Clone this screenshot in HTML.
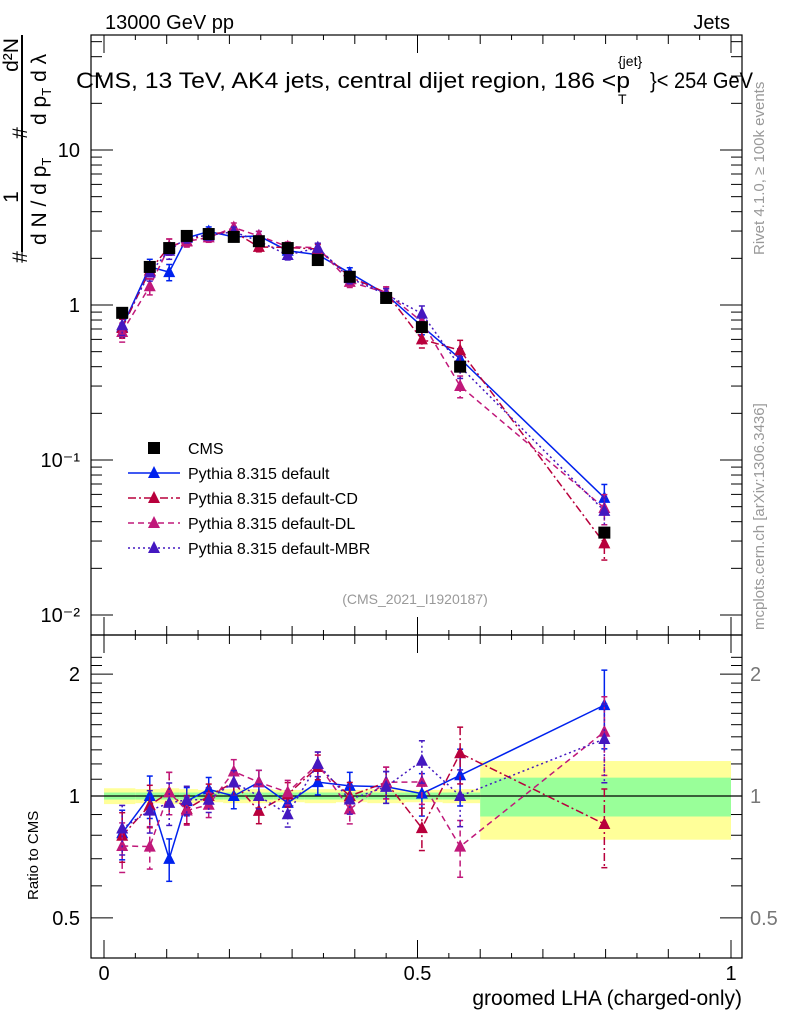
<!DOCTYPE html>
<html><head><meta charset="utf-8"><style>
body{margin:0;background:#fff;}
svg{display:block;font-family:"Liberation Sans",sans-serif;}
</style></head><body>
<svg id="c" width="786" height="1024" viewBox="0 0 786 1024" xmlns="http://www.w3.org/2000/svg">
<text x="105" y="29" font-size="20">13000 GeV pp</text>
<text x="730" y="29" font-size="20" text-anchor="end">Jets</text>
<g>
<text x="76" y="88" font-size="22" textLength="554" lengthAdjust="spacingAndGlyphs">CMS, 13 TeV, AK4 jets, central dijet region, 186 &lt;p</text>
<text x="618" y="66" font-size="14">{jet}</text>
<text x="618" y="104" font-size="14">T</text>
<text x="650" y="88" font-size="22" textLength="103" lengthAdjust="spacingAndGlyphs">}&lt; 254 GeV</text>
</g>
<text transform="translate(764,255) rotate(-90)" font-size="15" fill="#999">Rivet 4.1.0, ≥ 100k events</text>
<text transform="translate(764,630) rotate(-90)" font-size="15" fill="#999">mcplots.cern.ch [arXiv:1306.3436]</text>
<g font-size="21">
<line x1="22" y1="35" x2="22" y2="252" stroke="#000" stroke-width="2"/>
<text transform="translate(27,257) rotate(-90)" text-anchor="middle">#</text>
<text transform="translate(18,197) rotate(-90)" text-anchor="middle">1</text>
<text transform="translate(27,133) rotate(-90)" text-anchor="middle">#</text>
<text transform="translate(18,55) rotate(-90)" text-anchor="middle">d²N</text>
<text transform="translate(46,245) rotate(-90)">d N / d p<tspan font-size="13" dy="5">T</tspan></text>
<text transform="translate(46,125) rotate(-90)">d p<tspan font-size="13" dy="5">T</tspan><tspan dy="-5" dx="6">d λ</tspan></text>
</g>
<text transform="translate(38,900) rotate(-90)" font-size="15">Ratio to CMS</text>
<text x="742" y="1005" font-size="21" text-anchor="end">groomed LHA (charged-only)</text>
<text x="415" y="604" font-size="14" fill="#999" text-anchor="middle">(CMS_2021_I1920187)</text>
<g id="bands"></g><g id="grid"></g><g id="series"></g><g id="legend"></g>
</svg>
<script>
const xCenters=[0.029,0.073,0.104,0.132,0.167,0.207,0.247,0.293,0.341,0.392,0.450,0.507,0.568,0.798];
const binEdges=[0,0.05,0.09,0.12,0.15,0.19,0.23,0.27,0.32,0.37,0.42,0.48,0.54,0.6,1.0];
const cmsVals=[0.89,1.76,2.33,2.79,2.87,2.75,2.58,2.33,1.95,1.52,1.11,0.72,0.40,0.034];
const bandGreen=[0.02,0.02,0.02,0.02,0.02,0.02,0.02,0.02,0.02,0.02,0.02,0.02,0.02,0.11];
const bandYellow=[0.045,0.04,0.045,0.04,0.035,0.04,0.04,0.035,0.04,0.035,0.04,0.035,0.04,0.22];
const defVals=[0.72,1.76,1.63,2.71,2.98,2.75,2.79,2.24,2.11,1.61,1.17,0.73,0.45,0.057];
const cdVals=[0.71,1.67,2.38,2.59,2.87,2.97,2.37,2.35,2.30,1.52,1.20,0.60,0.51,0.029];
const dlVals=[0.67,1.32,2.38,2.57,2.73,3.16,2.79,2.38,2.34,1.41,1.20,0.78,0.30,0.049];
const mbrVals=[0.74,1.62,2.24,2.73,2.81,2.97,2.58,2.10,2.34,1.49,1.17,0.88,0.40,0.047];
const relErr=[0.14,0.12,0.12,0.08,0.07,0.07,0.07,0.07,0.07,0.08,0.09,0.12,0.16,0.22];
const yTickLabels=["10","1","10⁻¹","10⁻²"];
const legendLabels=["CMS","Pythia 8.315 default","Pythia 8.315 default-CD","Pythia 8.315 default-DL","Pythia 8.315 default-MBR"];

const NS="http://www.w3.org/2000/svg";
const L=91,R=742,T=35,M=635,B=958;
const X=v=>104+627*v;
const Y=v=>305-155*Math.log10(v);
const RY=v=>796-405*Math.log10(v);
function mk(tag,attrs,parent){const e=document.createElementNS(NS,tag);for(const k in attrs)e.setAttribute(k,attrs[k]);parent.appendChild(e);return e;}
const gb=document.getElementById('bands'),gg=document.getElementById('grid'),gs=document.getElementById('series'),gl=document.getElementById('legend');

for(let i=0;i<xCenters.length;i++){
  const x1=X(binEdges[i]),x2=X(binEdges[i+1]);
  let r=mk('rect',{x:x1,y:RY(1+bandYellow[i]),width:x2-x1,height:RY(1-bandYellow[i])-RY(1+bandYellow[i]),fill:'#ffff99'},gb);
  
  
  r=mk('rect',{x:x1,y:RY(1+bandGreen[i]),width:x2-x1,height:RY(1-bandGreen[i])-RY(1+bandGreen[i]),fill:'#99ff99'},gb);
  
  
}
let ln=mk('line',{x1:L,x2:R,y1:RY(1),y2:RY(1),stroke:'#000','stroke-width':1.2},gb);



let f=mk('rect',{x:L,y:T,width:R-L,height:M-T,fill:'none',stroke:'#000','stroke-width':1.2},gg);


f=mk('rect',{x:L,y:M,width:R-L,height:B-M,fill:'none',stroke:'#000','stroke-width':1.2},gg);


for(let k=0;k<=20;k++){const v=k*0.05,x=X(v),len=k%10==0?18:(k%2==0?9:5);
  [T,M].forEach(y0=>{mk('line',{x1:x,x2:x,y1:y0,y2:y0+len,stroke:'#000'},gg);});
  [M,B].forEach(y0=>{mk('line',{x1:x,x2:x,y1:y0,y2:y0-len,stroke:'#000'},gg);});
}
["0","0.5","1"].forEach((t,i)=>{const e=mk('text',{x:X(i*0.5),y:980,'font-size':20,'text-anchor':'middle'},gg);e.textContent=t;
 
 });
for(let d=-2;d<=1;d++){for(let m=1;m<10;m++){const v=m*Math.pow(10,d),y=Y(v);if(y<T||y>M)continue;const len=m==1?22:11;
 mk('line',{x1:L,x2:L+len,y1:y,y2:y,stroke:'#000'},gg);mk('line',{x1:R,x2:R-len,y1:y,y2:y,stroke:'#000'},gg);}}
[10,1,0.1,0.01].forEach((v,i)=>{const e=mk('text',{x:80,y:Y(v)+7,'font-size':20,'text-anchor':'end'},gg);e.textContent=yTickLabels[i];
 
 });
for(let v=0.5;v<=2.3;v+=0.1){const y=RY(v);if(y<M)continue;const major=Math.abs(v-0.5)<1e-6||Math.abs(v-1)<1e-6||Math.abs(v-2)<1e-6;const len=major?22:11;
 mk('line',{x1:L,x2:L+len,y1:y,y2:y,stroke:'#000'},gg);mk('line',{x1:R,x2:R-len,y1:y,y2:y,stroke:'#000'},gg);}
[[2,"2"],[1,"1"],[0.5,"0.5"]].forEach(([v,t])=>{
 let e=mk('text',{x:80,y:RY(v)+7,'font-size':20,'text-anchor':'end'},gg);e.textContent=t;
 
 
 e=mk('text',{x:750,y:RY(v)+7,'font-size':20,fill:'#777'},gg);e.textContent=t;
 
 });

function tri(x,y,col,parent){return mk('polygon',{points:`${x},${y-7} ${x-6},${y+5} ${x+6},${y+5}`,fill:col},parent);}
const series=[
 {vals:defVals,col:'#0022ee',dash:'',name:'default'},
 {vals:cdVals,col:'#b8003c',dash:'8,3,2,3',name:'cd'},
 {vals:dlVals,col:'#c0187a',dash:'6,4',name:'dl'},
 {vals:mbrVals,col:'#4418c0',dash:'2,3',name:'mbr'}];
series.forEach(s=>{
 const g=mk('g',{},gs);
 
 
 const pm=s.vals.map((v,i)=>X(xCenters[i])+','+Y(v)).join(' ');
 mk('polyline',{points:pm,fill:'none',stroke:s.col,'stroke-width':1.5,'stroke-dasharray':s.dash},g);
 const pr=s.vals.map((v,i)=>X(xCenters[i])+','+RY(v/cmsVals[i])).join(' ');
 mk('polyline',{points:pr,fill:'none',stroke:s.col,'stroke-width':1.5,'stroke-dasharray':s.dash},g);
 s.vals.forEach((v,i)=>{const x=X(xCenters[i]),e=relErr[i];
  [[Y(v*(1+e)),Y(v*(1-e))],[RY(v/cmsVals[i]*(1+e)),RY(v/cmsVals[i]*(1-e))]].forEach(([a,b])=>{
   mk('line',{x1:x,x2:x,y1:a,y2:b,stroke:s.col,'stroke-width':1.5,'stroke-dasharray':s.dash},g);
   mk('line',{x1:x-3,x2:x+3,y1:a,y2:a,stroke:s.col,'stroke-width':1.5},g);
   mk('line',{x1:x-3,x2:x+3,y1:b,y2:b,stroke:s.col,'stroke-width':1.5},g);});
  let p=tri(x,Y(v),s.col,g);
  
  
  p=tri(x,RY(v/cmsVals[i]),s.col,g);
  
  
 });
});
cmsVals.forEach((v,i)=>{const r=mk('rect',{x:X(xCenters[i])-6,y:Y(v)-6,width:12,height:12,fill:'#000'},gs);
 
 });

const ly=[448,473,498,523,548];
legendLabels.forEach((t,i)=>{
 const g=mk('g',{},gl);
 
 
 if(i==0){mk('rect',{x:148,y:ly[i]-6,width:12,height:12,fill:'#000'},g);}
 else{const s=series[i-1];mk('line',{x1:128,x2:180,y1:ly[i],y2:ly[i],stroke:s.col,'stroke-width':1.5,'stroke-dasharray':s.dash},g);tri(154,ly[i],s.col,g);}
 const e=mk('text',{x:188,y:ly[i]+6,'font-size':16},g);e.textContent=t;
});
</script>
</body></html>
